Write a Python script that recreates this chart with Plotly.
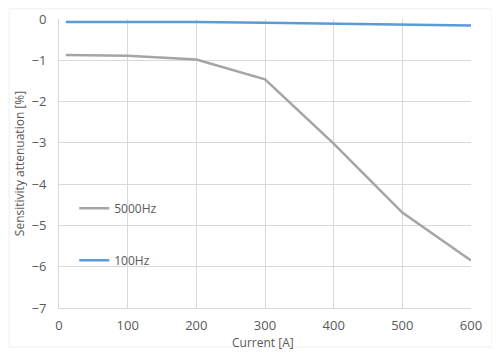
import plotly.graph_objects as go

current = [10, 100, 200, 300, 400, 500, 600]
att_5000 = [-0.87, -0.89, -0.98, -1.46, -3.02, -4.69, -5.85]
att_100 = [-0.07, -0.07, -0.07, -0.09, -0.11, -0.13, -0.16]
x_ticks = [0, 100, 200, 300, 400, 500, 600]
y_ticks = [0, -1, -2, -3, -4, -5, -6, -7]

font = "Open Sans, Noto Sans, sans-serif"
fig = go.Figure()
fig.add_trace(go.Scatter(x=current, y=att_5000, mode="lines", name="5000Hz",
                         line=dict(color="#a5a5a5", width=2.5), legend="legend"))
fig.add_trace(go.Scatter(x=current, y=att_100, mode="lines", name="100Hz",
                         line=dict(color="#5b9bd5", width=2.5), legend="legend2"))

leg_common = dict(bgcolor="rgba(0,0,0,0)", font=dict(size=12, color="#595959", family=font),
                  xanchor="left", yanchor="middle")
fig.update_layout(
    width=492, height=352,
    showlegend=True,
    margin=dict(l=51, r=29, t=11, b=52),
    paper_bgcolor="white", plot_bgcolor="white",
    font=dict(family=font, color="#595959", size=13),
    legend=dict(x=0.037, y=0.345, **leg_common),
    legend2=dict(x=0.037, y=0.165, **leg_common),
    xaxis=dict(range=[0, 600], tickvals=x_ticks, showgrid=True, gridcolor="#d9d9d9",
               gridwidth=1, zeroline=False, showline=True, linecolor="#d9d9d9",
               mirror=False, ticks="", ticklabelstandoff=5, automargin=False,
               tickfont=dict(size=13, color="#595959")),
    yaxis=dict(range=[-7, 0], tickvals=y_ticks, showgrid=True, gridcolor="#d9d9d9",
               gridwidth=1, zeroline=False, showline=True, linecolor="#d9d9d9",
               ticks="", ticklabelstandoff=9, automargin=False, tickfont=dict(size=13, color="#595959"),
               title=dict(text="Sensitivity attenuation [%]", standoff=4,
                          font=dict(size=12, color="#595959"))),
    annotations=[dict(text="Current [A]", xref="paper", yref="paper", x=0.495, y=-0.118,
                      xanchor="center", yanchor="middle", showarrow=False,
                      font=dict(size=12, color="#595959"))],
    shapes=[dict(type="rect", xref="paper", yref="paper", x0=-0.121, x1=1.051,
                 y0=-0.135, y1=1.035, line=dict(color="#efefef", width=1))],
)
fig.write_html("out.html")
